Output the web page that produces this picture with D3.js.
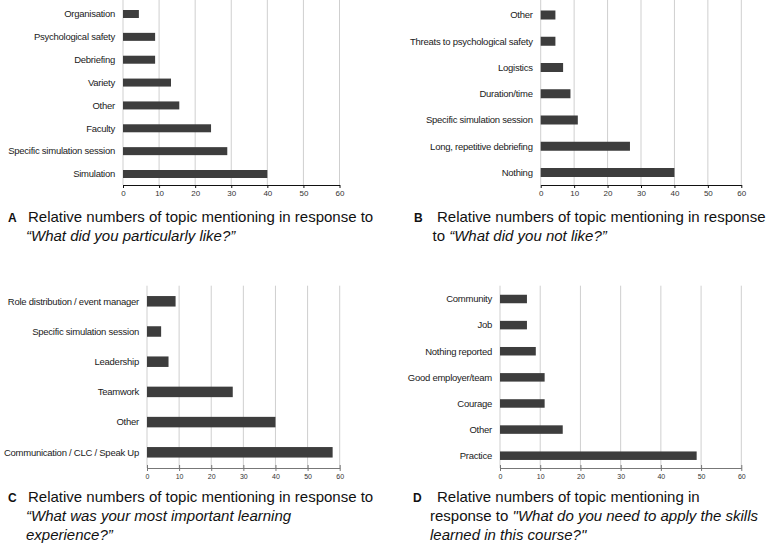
<!DOCTYPE html>
<html>
<head>
<meta charset="utf-8">
<script src="https://cdn.jsdelivr.net/npm/d3@7"></script>
<style>
  html, body { margin: 0; padding: 0; background: #fff; }
  svg { display: block; }
  text { font-family: "Liberation Sans", Arial, sans-serif; }
</style>
</head>
<body>
<svg id="chart" width="767" height="552"></svg>
<script>
// ---- Data ----
const catsA = ["Organisation", "Psychological safety", "Debriefing", "Variety", "Other", "Faculty", "Specific simulation session", "Simulation"];
const valsA = [4.4, 8.9, 8.9, 13.3, 15.6, 24.4, 28.9, 40.0];

const catsB = ["Other", "Threats to psychological safety", "Logistics", "Duration/time", "Specific simulation session", "Long, repetitive debriefing", "Nothing"];
const valsB = [4.4, 4.4, 6.7, 8.9, 11.1, 26.7, 40.0];

const catsC = ["Role distribution / event manager", "Specific simulation session", "Leadership", "Teamwork", "Other", "Communication / CLC / Speak Up"];
const valsC = [8.9, 4.4, 6.7, 26.7, 40.0, 57.8];

const catsD = ["Community", "Job", "Nothing reported", "Good employer/team", "Courage", "Other", "Practice"];
const valsD = [6.7, 6.7, 8.9, 11.1, 11.1, 15.6, 48.9];

const tickVals = [0, 10, 20, 30, 40, 50, 60];

const svg = d3.select("#chart");

function caption(letter, letterX, ys, lines) {
  const cap = svg.append("text").attr("font-size", 15).attr("fill", "#111");
  cap.append("tspan").attr("x", letterX).attr("y", ys[0])
    .attr("font-weight", "bold").attr("font-size", 12).text(letter);
  lines.forEach((ln, i) => {
    ln.parts.forEach((p, j) => {
      const t = cap.append("tspan").attr("font-style", p.it ? "italic" : "normal").text(p.t);
      if (j === 0) t.attr("x", ln.x).attr("y", ys[i]);
    });
  });
}

function drawPanel(cfg) {
  const g = svg.append("g");
  const x = d3.scaleLinear().domain([0, 60]).range([cfg.x0, cfg.x1]);
  const y = d3.scalePoint().domain(cfg.cats).range([cfg.yTop, cfg.yBot]);

  g.selectAll("line.grid").data(tickVals).join("line")
    .attr("x1", d => x(d)).attr("x2", d => x(d))
    .attr("y1", cfg.gridTop).attr("y2", cfg.axisY)
    .attr("stroke", "#cfcfcf").attr("stroke-width", 1);

  g.selectAll("rect.bar").data(cfg.vals).join("rect")
    .attr("x", x(0))
    .attr("y", (d, i) => y(cfg.cats[i]) - cfg.barH / 2)
    .attr("width", d => x(d) - x(0))
    .attr("height", cfg.barH)
    .attr("fill", "#3d3d3d");

  g.selectAll("text.cat").data(cfg.cats).join("text")
    .attr("x", x(0) - 8)
    .attr("y", d => y(d))
    .attr("dy", "0.35em")
    .attr("text-anchor", "end")
    .attr("font-size", cfg.labelSize)
    .attr("letter-spacing", "-0.25px")
    .attr("fill", "#1a1a1a")
    .text(d => d);

  const axis = d3.axisBottom(x).tickValues(tickVals).tickSize(0).tickPadding(0);
  const ag = g.append("g").attr("transform", `translate(0,${cfg.axisY})`).call(axis);
  ag.select(".domain").attr("stroke", cfg.axisColor).attr("stroke-width", 1.2);
  ag.selectAll(".tick line").remove();
  ag.selectAll(".tick").append("line")
    .attr("y1", cfg.tickUp).attr("y2", cfg.tickDown)
    .attr("stroke", cfg.axisColor).attr("stroke-width", 1);
  ag.selectAll(".tick text")
    .attr("y", cfg.tickLabelDy)
    .attr("dy", "0.35em")
    .attr("font-size", cfg.tickSize)
    .attr("font-family", cfg.tickFont)
    .attr("fill", "#333");
}

drawPanel({cats: catsA, vals: valsA, x0: 123, x1: 339.5, yTop: 14, yBot: 174, barH: 8,
  gridTop: 0, axisY: 185, axisColor: "#111", tickUp: 0, tickDown: 3, tickLabelDy: 8.5,
  tickSize: 8, tickFont: "Liberation Sans, Arial, sans-serif", labelSize: 9.5});
drawPanel({cats: catsB, vals: valsB, x0: 540.7, x1: 741.3, yTop: 15, yBot: 172.5, barH: 9,
  gridTop: 0, axisY: 185, axisColor: "#111", tickUp: 0, tickDown: 3, tickLabelDy: 8.5,
  tickSize: 8, tickFont: "Liberation Sans, Arial, sans-serif", labelSize: 9.5});
drawPanel({cats: catsC, vals: valsC, x0: 147, x1: 339.7, yTop: 301.3, yBot: 452.3, barH: 10.5,
  gridTop: 285.7, axisY: 468, axisColor: "#777", tickUp: -3, tickDown: 3, tickLabelDy: 8.5,
  tickSize: 7, tickFont: "DejaVu Sans, sans-serif", labelSize: 9.5});
drawPanel({cats: catsD, vals: valsD, x0: 500, x1: 741.3, yTop: 299, yBot: 455.7, barH: 8.5,
  gridTop: 285.7, axisY: 468, axisColor: "#777", tickUp: -3, tickDown: 3, tickLabelDy: 8.5,
  tickSize: 7, tickFont: "DejaVu Sans, sans-serif", labelSize: 9.5});

caption("A", 8, [222, 241], [
  {x: 28, parts: [{t: "Relative numbers of topic mentioning in response to"}]},
  {x: 26, parts: [{t: "\u201CWhat did you particularly like?\u201D", it: true}]}
]);
caption("B", 414, [222, 241], [
  {x: 437, parts: [{t: "Relative numbers of topic mentioning in response"}]},
  {x: 432.5, parts: [{t: "to "}, {t: "\u201CWhat did you not like?\u201D", it: true}]}
]);
caption("C", 8, [502, 521, 540], [
  {x: 28, parts: [{t: "Relative numbers of topic mentioning in response to"}]},
  {x: 26, parts: [{t: "\u201CWhat was your most important learning", it: true}]},
  {x: 26, parts: [{t: "experience?\u201D", it: true}]}
]);
caption("D", 413, [502, 521, 540], [
  {x: 437, parts: [{t: "Relative numbers of topic mentioning in"}]},
  {x: 430, parts: [{t: "response to "}, {t: "\"What do you need to apply the skills", it: true}]},
  {x: 430, parts: [{t: "learned in this course?\"", it: true}]}
]);
</script>
</body>
</html>
